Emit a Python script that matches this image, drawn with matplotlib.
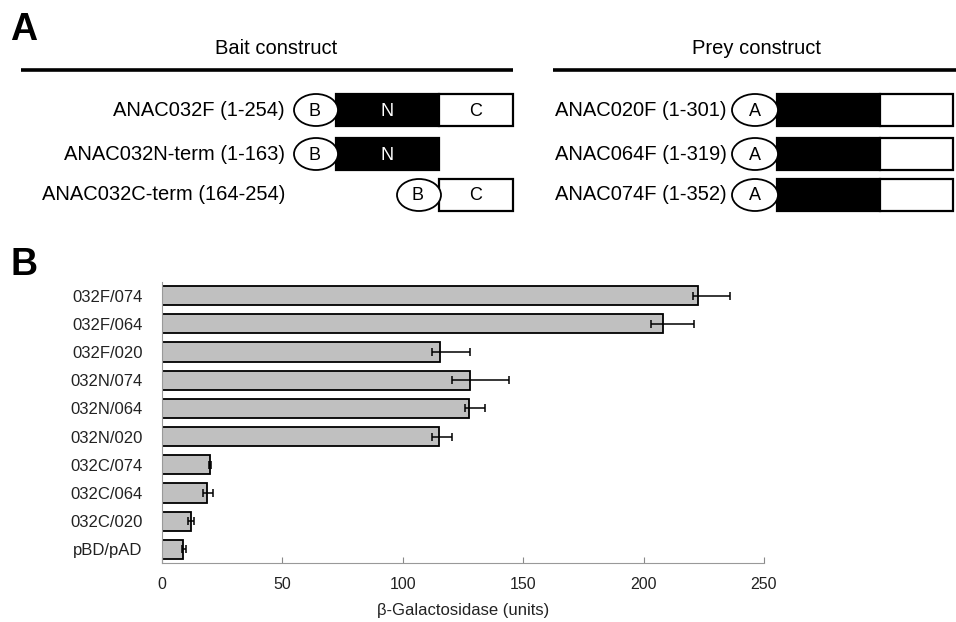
import matplotlib
matplotlib.use('Agg')
import matplotlib.pyplot as plt
from matplotlib.patches import Ellipse, Rectangle
import numpy as np

plt.rcParams['font.family'] = ['Liberation Sans', 'DejaVu Sans']

# Panel A: constructs
bait_labels = ['ANAC032F (1-254)', 'ANAC032N-term (1-163)', 'ANAC032C-term (164-254)']
bait_domains = [['N', 'C'], ['N'], ['C']]
prey_labels = ['ANAC020F (1-301)', 'ANAC064F (1-319)', 'ANAC074F (1-352)']

# Panel B: beta-galactosidase activity
pairs = ['032F/074', '032F/064', '032F/020', '032N/074', '032N/064', '032N/020',
         '032C/074', '032C/064', '032C/020', 'pBD/pAD']
activity = [222.5, 208.2, 115.6, 127.9, 127.4, 114.9, 19.9, 18.6, 11.9, 8.9]
err_low = [220.4, 203.0, 112.3, 120.4, 126.0, 112.3, 19.6, 17.2, 10.9, 8.2]
err_high = [236.0, 221.0, 127.8, 144.0, 134.0, 120.6, 20.4, 21.0, 13.3, 10.0]

W, H = 956, 622
fig = plt.figure(figsize=(W / 100, H / 100), dpi=100)

# ---- panel A drawn in pixel coordinates
ax0 = fig.add_axes([0, 0, 1, 1])
ax0.set_xlim(0, W)
ax0.set_ylim(H, 0)
ax0.axis('off')

ax0.text(10, 30, 'A', fontsize=27, fontweight='bold', va='center', ha='left')
ax0.text(11, 265, 'B', fontsize=27, fontweight='bold', va='center', ha='left')

ax0.text(276, 49, 'Bait construct', fontsize=14.5, ha='center', va='center')
ax0.text(757, 49, 'Prey construct', fontsize=14.5, ha='center', va='center')
ax0.plot([21, 513], [70, 70], color='black', lw=2.6, solid_capstyle='butt')
ax0.plot([553, 956], [70, 70], color='black', lw=2.6, solid_capstyle='butt')

row_y = [110, 154, 195]
box_h = 32
dom_x = {'N': (336, 439), 'C': (439, 513)}
dom_fc = {'N': 'black', 'C': 'white'}
dom_tc = {'N': 'white', 'C': 'black'}

for y, lab, doms in zip(row_y, bait_labels, bait_domains):
    ax0.text(285, y, lab, fontsize=14.5, ha='right', va='center')
    x0 = dom_x[doms[0]][0]
    for d in doms:
        a, b = dom_x[d]
        ax0.add_patch(Rectangle((a, y - box_h / 2), b - a, box_h, facecolor=dom_fc[d],
                                edgecolor='black', lw=1.6, zorder=2))
        ax0.text((a + b) / 2, y + 1, d, color=dom_tc[d], fontsize=13, ha='center', va='center', zorder=3)
    ax0.add_patch(Ellipse((x0 - 20, y), 44, 32, facecolor='white', edgecolor='black', lw=1.3, zorder=3))
    ax0.text(x0 - 21, y + 1, 'B', fontsize=13, ha='center', va='center', zorder=4)

for y, lab in zip(row_y, prey_labels):
    ax0.text(555, y, lab, fontsize=14.5, ha='left', va='center')
    ax0.add_patch(Rectangle((777, y - box_h / 2), 103, box_h, facecolor='black',
                            edgecolor='black', lw=1.6, zorder=2))
    ax0.add_patch(Rectangle((880, y - box_h / 2), 73, box_h, facecolor='white',
                            edgecolor='black', lw=1.6, zorder=2))
    ax0.add_patch(Ellipse((755, y), 46, 32, facecolor='white', edgecolor='black', lw=1.3, zorder=3))
    ax0.text(755, y + 1, 'A', fontsize=13, ha='center', va='center', zorder=4)

# ---- panel B bar chart
left, right, top, bottom = 162, 764, 282, 563
ax = fig.add_axes([left / W, 1 - bottom / H, (right - left) / W, (bottom - top) / H])

act = np.array(activity)
xerr = [act - np.array(err_low), np.array(err_high) - act]
ypos = np.arange(len(pairs))
ax.barh(ypos, act, height=0.68, color='#c0c0c0', edgecolor='black', linewidth=1.3)
ax.errorbar(act, ypos, xerr=xerr, fmt='none', ecolor='black', elinewidth=1.1,
            capsize=2.6, capthick=1.1)

ax.set_xlim(0, 250)
ax.set_ylim(len(pairs) - 0.52, -0.48)
ax.set_yticks(ypos)
ax.set_yticklabels(pairs, fontsize=12, color='#222222')
ax.tick_params(axis='y', length=0, pad=14)
ax.set_xticks([0, 50, 100, 150, 200, 250])
ax.tick_params(axis='x', direction='in', length=4, color='#888888', labelsize=11.5,
               labelcolor='#222222', pad=10)
for s in ['top', 'right']:
    ax.spines[s].set_visible(False)
ax.spines['left'].set_color('#999999')
ax.spines['bottom'].set_color('#999999')
ax.set_xlabel('\u03b2-Galactosidase (units)', fontsize=12, color='#222222', labelpad=8)

fig.savefig('out.png', dpi=100)
